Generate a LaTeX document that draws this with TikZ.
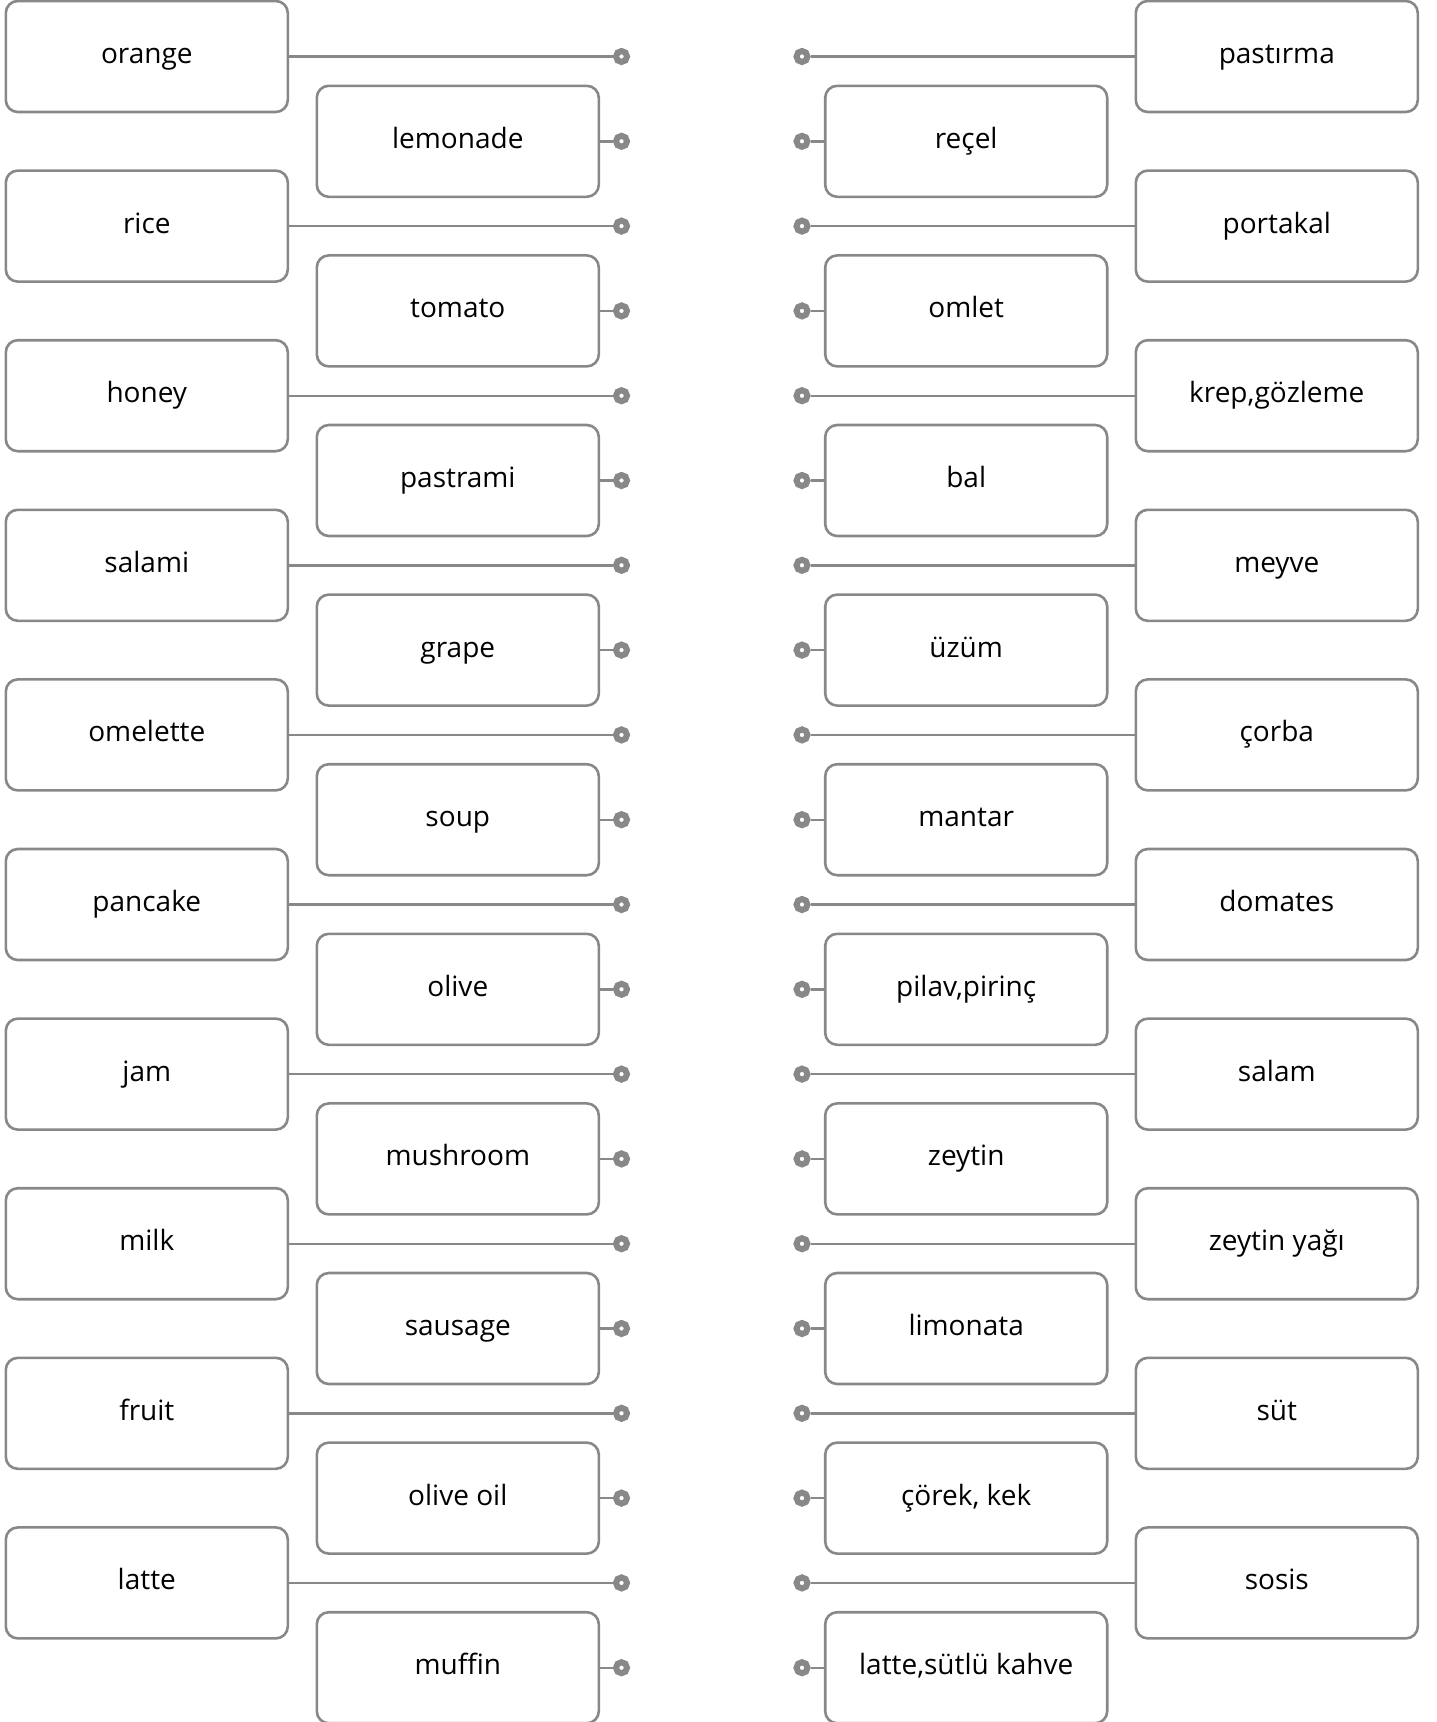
\documentclass[tikz,border=0pt]{standalone}
\usepackage{fontspec}
\setmainfont{Open Sans}
\definecolor{edge}{RGB}{136,136,136}
\begin{document}
\begin{tikzpicture}[x=1pt,y=-1pt,
  card/.style={draw=edge,line width=2.6pt,rounded corners=12pt,minimum width=282pt,minimum height=111pt,inner sep=0pt,font=\fontsize{28}{32}\selectfont,text height=21pt,text depth=7pt,fill=white},
  dot/.style={circle,draw=edge,line width=6pt,fill=white,inner sep=0pt,minimum size=11pt},
  link/.style={draw=edge,line width=2.4pt}]
\useasboundingbox (0,0) rectangle (1436,1722);
% left outer column
\foreach \t [count=\i from 0] in {orange,rice,honey,salami,omelette,pancake,jam,milk,fruit,latte} {
  \node[card] (L\i) at (146.8,{56.5+\i*169.6}) {\t};
  \node[dot] (LD\i) at (621.5,{56.5+\i*169.6}) {};
  \draw[link] (L\i.east) -- (LD\i);
}
% left inner column
\foreach \t [count=\i from 0] in {lemonade,tomato,pastrami,grape,soup,olive,mushroom,sausage,olive oil,muffin} {
  \node[card] (M\i) at (457.8,{141.3+\i*169.6}) {\t};
  \node[dot] (MD\i) at (621.5,{141.3+\i*169.6}) {};
  \draw[link] (M\i.east) -- (MD\i);
}
% right inner column
\foreach \t [count=\i from 0] in {reçel,omlet,bal,üzüm,mantar,{pilav,pirinç},zeytin,limonata,{çörek, kek},{latte,sütlü kahve}} {
  \node[card] (N\i) at (966.2,{141.3+\i*169.6}) {\t};
  \node[dot] (ND\i) at (802,{141.3+\i*169.6}) {};
  \draw[link] (ND\i) -- (N\i.west);
}
% right outer column
\foreach \t [count=\i from 0] in {pastırma,portakal,{krep,gözleme},meyve,çorba,domates,salam,zeytin yağı,süt,sosis} {
  \node[card] (R\i) at (1276.8,{56.5+\i*169.6}) {\t};
  \node[dot] (RD\i) at (802,{56.5+\i*169.6}) {};
  \draw[link] (RD\i) -- (R\i.west);
}
\end{tikzpicture}
\end{document}
